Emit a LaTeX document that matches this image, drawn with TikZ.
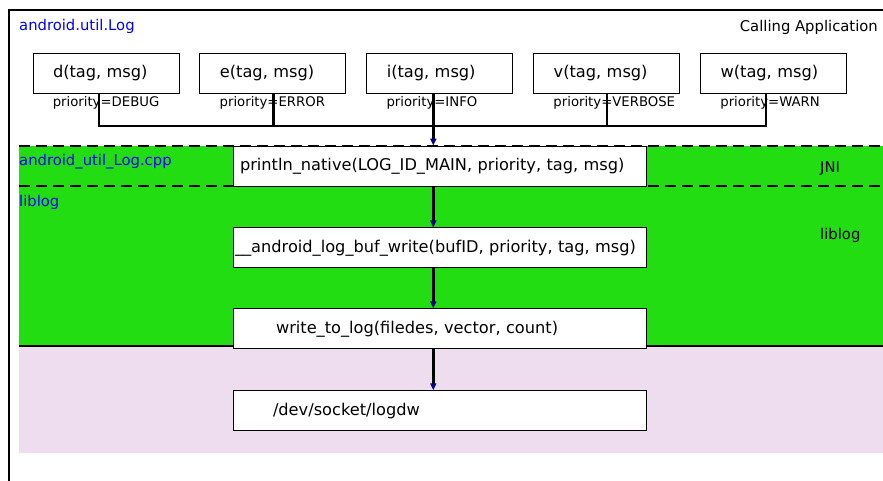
\documentclass[tikz,border=0pt]{standalone}
\usepackage{fontspec}
\setmainfont{DejaVu Sans}
\usetikzlibrary{positioning, arrows.meta}

\definecolor{jnigreen}{RGB}{34,221,17}
\definecolor{sockpink}{RGB}{237,221,238}
\definecolor{tipblue}{RGB}{0,0,140}

\newcommand{\callfont}{\fontsize{16.2}{19}\selectfont}
\newcommand{\tagfont}{\fontsize{14.8}{17}\selectfont}

\begin{document}
\begin{tikzpicture}[x=1pt, y=-1pt, >={Triangle[width=6pt, length=7pt, color=tipblue]},
  node distance=20pt,
  call/.style={draw, fill=white, line width=0.9pt, minimum height=40pt,
               text width=106pt, inner xsep=20pt, align=left, font=\callfont},
  native/.style={call, text width=409pt, inner xsep=2pt},
  prio/.style={anchor=base west, inner sep=0pt, font=\fontsize{13.25}{15}\selectfont},
  layer/.style={anchor=base west, inner sep=0pt, text=blue, font=\tagfont},
  tag/.style={anchor=base west, inner sep=0pt, font=\tagfont},
  wire/.style={line width=2.4pt},
  sep/.style={line width=2.4pt, dash pattern=on 11pt off 6pt}]

  \useasboundingbox (0,0) rectangle (883,481);

  % layers
  \fill[sockpink] (19,346) rectangle (883,453);
  \fill[jnigreen] (19,146) rectangle (883,346);
  \draw[line width=2.2pt] (9,481) -- (9,10) -- (883,10);
  \draw[sep]  (19,146) -- (883,146);
  \draw[sep]  (19,186) -- (883,186);
  \draw[wire] (19,346) -- (883,346);

  \node[layer]                  (applog)   at (19,31)   {android.util.Log};
  \node[tag, anchor=base east]  (app)      at (878,32)  {Calling Application};
  \node[layer]                  (jnifile)  at (19,166)  {android\_util\_Log.cpp};
  \node[layer]                  (libfile)  at (19,207)  {liblog};
  \node[tag]                    (jni)      at (820,173) {JNI};
  \node[tag]                    (liblog)   at (820,240) {liblog};

  % java side
  \node[call]  (d)  at (106,73)     {d(tag, msg)};
  \node[call]  (e)  [right=of d]    {e(tag, msg)};
  \node[call]  (i)  [right=of e]    {i(tag, msg)};
  \node[call]  (v)  [right=of i]    {v(tag, msg)};
  \node[call]  (w)  [right=of v]    {w(tag, msg)};

  \node[prio]  (pd) at ([xshift=20pt, yshift=-13pt]d.south west) {priority=DEBUG};
  \node[prio]  (pe) at ([xshift=20pt, yshift=-13pt]e.south west) {priority=ERROR};
  \node[prio]  (pi) at ([xshift=20pt, yshift=-13pt]i.south west) {priority=INFO};
  \node[prio]  (pv) at ([xshift=20pt, yshift=-13pt]v.south west) {priority=VERBOSE};
  \node[prio]  (pw) at ([xshift=20pt, yshift=-13pt]w.south west) {priority=WARN};

  % native side
  \node[native, execute at begin node=\hspace*{5pt}]
                (println)  at (439.5,166)          {println\_native(LOG\_ID\_MAIN, priority, tag, msg)};
  \node[native] (bufwrite) [below=41pt of println] {\_\_android\_log\_buf\_write(bufID, priority, tag, msg)};
  \node[native, execute at begin node=\hspace*{41pt}]
                (writelog) [below=40pt of bufwrite] {write\_to\_log(filedes, vector, count)};
  \node[native, execute at begin node=\hspace*{38pt}]
                (socket)   [below=41pt of writelog] {/dev/socket/logdw};

  \coordinate (bus)   at (0,126);
  \coordinate (spine) at ([xshift=-6.5pt]i.south);
  \coordinate (dtap)  at ([xshift=-7pt]d.south);
  \coordinate (etap)  at ([xshift=0.5pt]e.south);
  \coordinate (vtap)  at (v.south);
  \coordinate (wtap)  at ([xshift=-7.5pt]w.south);

  \draw[wire] (dtap) |- (wtap |- bus) -- (wtap);
  \draw[wire] (etap) -- (etap |- bus);
  \draw[wire] (vtap) -- (vtap |- bus);

  \path[->, wire]
        (spine)                     edge (println.north -| spine)
        (println.south -| spine)    edge (bufwrite.north -| spine)
        (bufwrite.south -| spine)   edge (writelog.north -| spine)
        (writelog.south -| spine)   edge (socket.north -| spine)
        ;

\end{tikzpicture}
\end{document}
